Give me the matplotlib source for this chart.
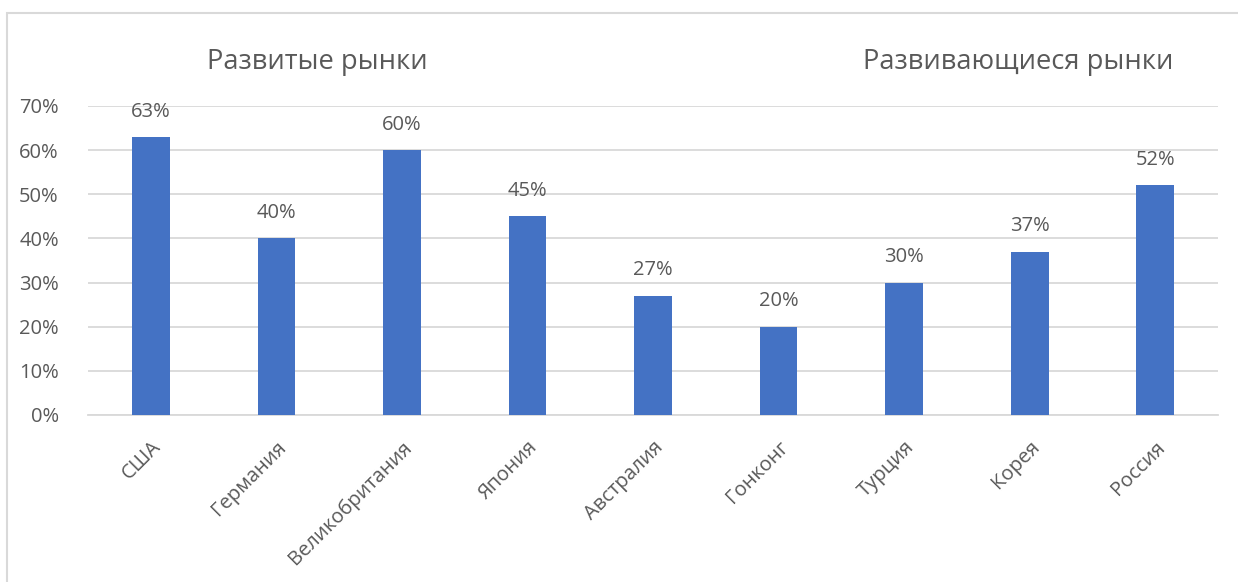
import matplotlib.pyplot as plt
from matplotlib.patches import Rectangle
from matplotlib.ticker import PercentFormatter

countries = ['США', 'Германия', 'Великобритания', 'Япония', 'Австралия',
             'Гонконг', 'Турция', 'Корея', 'Россия']
shares = [0.63, 0.40, 0.60, 0.45, 0.27, 0.20, 0.30, 0.37, 0.52]
group_titles = ['Развитые рынки', 'Развивающиеся рынки']

plt.rcParams['font.family'] = ['Open Sans', 'DejaVu Sans']
text_color = '#595959'
bar_color = '#4472C4'
grid_color = '#D9D9D9'

fig = plt.figure(figsize=(12.38, 5.82), dpi=100)
ax = fig.add_axes([0.0711, 0.287, 0.9128, 0.531])

x = range(len(countries))
bars = ax.bar(x, shares, width=0.3, color=bar_color, zorder=3)

for bar, val in zip(bars, shares):
    ax.annotate(f'{val:.0%}', (bar.get_x() + bar.get_width() / 2, val),
                xytext=(0, 11), textcoords='offset points',
                ha='center', va='bottom', fontsize=14.5, color=text_color)

ax.set_xlim(-0.5, len(countries) - 0.5)
ax.set_ylim(0, 0.7)
ax.set_yticks([i / 10 for i in range(8)])
ax.yaxis.set_major_formatter(PercentFormatter(1.0, decimals=0))
ax.grid(axis='y', color=grid_color, linewidth=1.3, zorder=0)
ax.set_xticks(list(x))
ax.set_xticklabels(countries, rotation=45, ha='right', rotation_mode='anchor')
ax.tick_params(axis='both', length=0, labelsize=14.5, labelcolor=text_color)
ax.tick_params(axis='x', pad=16)
ax.tick_params(axis='y', pad=21)
for side in ['top', 'right', 'left']:
    ax.spines[side].set_visible(False)
ax.spines['bottom'].set_color(grid_color)
ax.spines['bottom'].set_linewidth(1.3)

fig.text(317 / 1238, 1 - 62 / 582, group_titles[0], ha='center', va='center',
         fontsize=19.6, color=text_color)
fig.text(1018 / 1238, 1 - 62 / 582, group_titles[1], ha='center', va='center',
         fontsize=19.6, color=text_color)

# chart area border (only top and left visible in the crop)
fig.patches.append(Rectangle((7 / 1238, -0.1), 1.2, 1 - 13 / 582 + 0.1,
                             transform=fig.transFigure, fill=False,
                             edgecolor=grid_color, linewidth=1.5))

fig.savefig('out.png', dpi=100)
plt.close(fig)
